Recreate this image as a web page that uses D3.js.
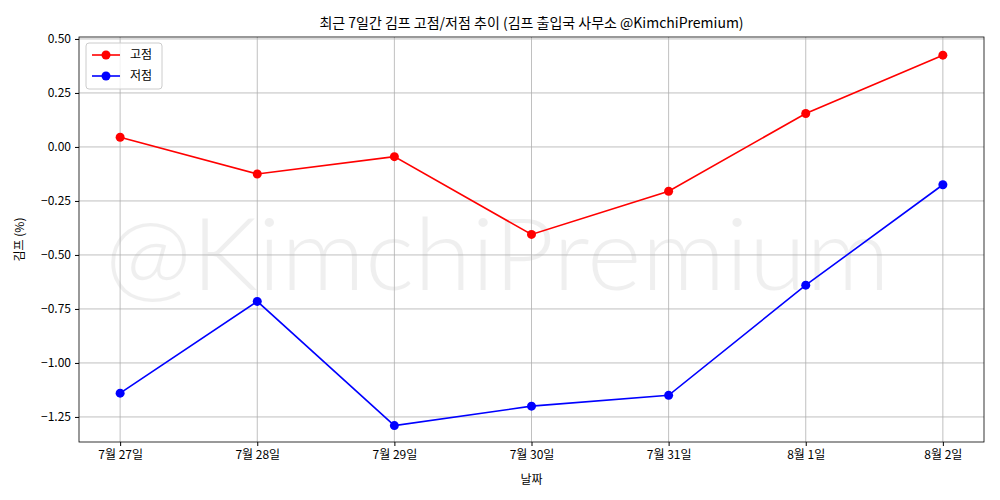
<!DOCTYPE html>
<html><head><meta charset="utf-8">
<script src="https://cdn.jsdelivr.net/npm/d3@7"></script>
<style>body{margin:0;background:#fff}text{font-family:"Noto Sans CJK KR","DejaVu Sans",sans-serif}</style>
</head><body>
<svg id="c" width="1000" height="500"></svg>
<script>
const dates = ["7월 27일","7월 28일","7월 29일","7월 30일","7월 31일","8월 1일","8월 2일"];
const highs = [0.045,-0.125,-0.045,-0.405,-0.205,0.155,0.425];
const lows = [-1.14,-0.715,-1.29,-1.20,-1.15,-0.64,-0.175];
const yTicks = [0.5,0.25,0,-0.25,-0.5,-0.75,-1,-1.25];

const svg = d3.select("#c");
const L = 79, R = 984, T = 37, B = 442;
const x = d3.scaleLinear().domain([-0.3, dates.length - 0.7]).range([L, R]);
const y = d3.scaleLinear().domain([-1.366, 0.509]).range([B, T]);

svg.append("text").attr("x", 105).attr("y", 290)
  .attr("font-size", 100).attr("font-weight", 300).attr("fill", "#000")
  .attr("textLength", 785).attr("lengthAdjust", "spacingAndGlyphs")
  .attr("opacity", 0.06).style("font-family", "Lato, 'DejaVu Sans'").text("@KimchiPremium");

const g = svg.append("g");
g.selectAll(".gx").data(dates).enter().append("line")
  .attr("x1", (d, i) => x(i)).attr("x2", (d, i) => x(i)).attr("y1", T).attr("y2", B)
  .attr("stroke", "#b0b0b0").attr("stroke-width", 0.8);
g.selectAll(".gy").data(yTicks).enter().append("line")
  .attr("x1", L).attr("x2", R).attr("y1", d => y(d)).attr("y2", d => y(d))
  .attr("stroke", "#b0b0b0").attr("stroke-width", 0.8);

const xAxis = d3.axisBottom(x).tickValues(d3.range(dates.length)).tickFormat(i => dates[i]).tickSize(4).tickPadding(4);
const yAxis = d3.axisLeft(y).tickValues(yTicks).tickFormat(d3.format(".2f")).tickSize(4).tickPadding(4);
const ax = svg.append("g").attr("transform", `translate(0,${B})`).call(xAxis);
const ay = svg.append("g").attr("transform", `translate(${L},0)`).call(yAxis);
[ax, ay].forEach(a => { a.select(".domain").remove(); a.selectAll("text").attr("font-size", 12).attr("fill", "#000"); a.selectAll("line").attr("stroke", "#000"); });
svg.append("rect").attr("x", L).attr("y", T).attr("width", R - L).attr("height", B - T)
  .attr("fill", "none").attr("stroke", "#000").attr("stroke-width", 0.8);

const line = d3.line().x((d, i) => x(i)).y(d => y(d));
[[highs, "#ff0000"], [lows, "#0000ff"]].forEach(([s, c]) => {
  svg.append("path").datum(s).attr("d", line).attr("fill", "none").attr("stroke", c).attr("stroke-width", 1.6);
  svg.selectAll(null).data(s).enter().append("circle")
    .attr("cx", (d, i) => x(i)).attr("cy", d => y(d)).attr("r", 4.5).attr("fill", c);
});

svg.append("text").attr("x", (L + R) / 2).attr("y", 28).attr("text-anchor", "middle").attr("font-size", 14)
  .text("최근 7일간 김프 고점/저점 추이 (김프 출입국 사무소 @KimchiPremium)");
svg.append("text").attr("x", (L + R) / 2).attr("y", 484).attr("text-anchor", "middle").attr("font-size", 12).text("날짜");
svg.append("text").attr("transform", `translate(24,${(T + B) / 2}) rotate(-90)`).attr("text-anchor", "middle").attr("font-size", 12).text("김프 (%)");

const lg = svg.append("g").attr("transform", `translate(86,43)`);
lg.append("rect").attr("width", 76).attr("height", 46).attr("rx", 3).attr("fill", "#fff").attr("fill-opacity", 0.8).attr("stroke", "#ccc");
[["고점", "#ff0000"], ["저점", "#0000ff"]].forEach(([n, c], i) => {
  const yy = 12 + i * 21;
  lg.append("line").attr("x1", 6).attr("x2", 34).attr("y1", yy).attr("y2", yy).attr("stroke", c).attr("stroke-width", 1.6);
  lg.append("circle").attr("cx", 20).attr("cy", yy).attr("r", 4.5).attr("fill", c);
  lg.append("text").attr("x", 44).attr("y", yy + 4).attr("font-size", 12).text(n);
});
</script>
</body></html>
